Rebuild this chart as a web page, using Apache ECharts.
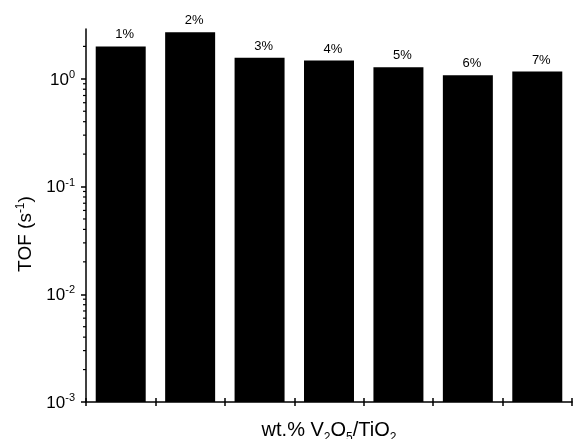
<!DOCTYPE html>
<html>
<head>
<meta charset="utf-8">
<script src="https://cdn.jsdelivr.net/npm/echarts@6/dist/echarts.min.js"></script>
<style>
html,body{margin:0;padding:0;background:#fff;}
#chart{width:573px;height:439px;}
</style>
</head>
<body>
<div id="chart"></div>
<script>
var categories = ['1%', '2%', '3%', '4%', '5%', '6%', '7%'];
var tofValues = [2.0, 2.70, 1.57, 1.48, 1.28, 1.08, 1.17];
var majorTicks = [0.001, 0.01, 0.1, 1];
var minorTicks = [0.002, 0.003, 0.004, 0.005, 0.006, 0.007, 0.008, 0.009,
                  0.02, 0.03, 0.04, 0.05, 0.06, 0.07, 0.08, 0.09,
                  0.2, 0.3, 0.4, 0.5, 0.6, 0.7, 0.8, 0.9, 2];
var yMin = 0.001, yMax = 2.9;

var FONT = 'Liberation Sans, Arial, sans-serif';
var chart = echarts.init(document.getElementById('chart'));

var barData = categories.map(function (c, i) { return [i, tofValues[i]]; });
var minorData = minorTicks.map(function (v) { return [0, v]; });

chart.setOption({
  animation: false,
  backgroundColor: '#fff',
  grid: { left: 86, right: 1, top: 29, bottom: 37, containLabel: false, outerBoundsMode: 'none' },
  xAxis: [{
    type: 'category',
    data: categories,
    position: 'bottom',
    axisLine: { show: true, lineStyle: { color: '#000', width: 1.5 } },
    axisTick: { show: true, inside: false, length: 4, lineStyle: { color: '#000', width: 1.5 } },
    axisLabel: { show: false },
    name: '{n|wt.% V}{s|2}{n|O}{s|5}{n|/TiO}{s|2}',
    nameLocation: 'middle',
    nameGap: 16,
    nameTextStyle: {
      color: '#000', fontFamily: FONT,
      rich: {
        n: { fontSize: 20, lineHeight: 22, color: '#000', fontFamily: FONT, verticalAlign: 'bottom' },
        s: { fontSize: 12, lineHeight: 12, color: '#000', fontFamily: FONT, verticalAlign: 'bottom', padding: [0, 0, -4, 0] }
      }
    }
  }, {
    type: 'category',
    data: categories,
    position: 'bottom',
    axisLine: { show: false },
    axisTick: { show: true, inside: true, length: 4, lineStyle: { color: '#000', width: 1.5 } },
    axisLabel: { show: false }
  }],
  yAxis: [{
    type: 'log',
    logBase: 10,
    min: yMin,
    max: yMax,
    position: 'left',
    splitLine: { show: false },
    axisLine: { show: true, lineStyle: { color: '#000', width: 1.5 } },
    axisTick: { show: true, inside: false, length: 5, customValues: majorTicks, lineStyle: { color: '#000', width: 1.5 } },
    axisLabel: {
      show: true,
      customValues: majorTicks,
      margin: 11,
      formatter: function (v) {
        var e = Math.round(Math.log(v) / Math.LN10);
        return '{b|10}{s|' + e + '}';
      },
      rich: {
        b: { fontSize: 17, lineHeight: 19, color: '#000', fontFamily: FONT, verticalAlign: 'bottom' },
        s: { fontSize: 11, lineHeight: 11, color: '#000', fontFamily: FONT, verticalAlign: 'top' }
      }
    },
    name: '{n|TOF (s}{s|-1}{n|)}',
    nameLocation: 'middle',
    nameGap: 50,
    nameRotate: 90,
    nameTextStyle: {
      color: '#000', fontFamily: FONT,
      padding: [0, 37, 0, 0],
      rich: {
        n: { fontSize: 19, lineHeight: 21, color: '#000', fontFamily: FONT, verticalAlign: 'bottom' },
        s: { fontSize: 12, lineHeight: 12, color: '#000', fontFamily: FONT, verticalAlign: 'top' }
      }
    }
  }],
  series: [{
    type: 'custom',
    xAxisIndex: 0,
    yAxisIndex: 0,
    data: barData,
    encode: { x: 0, y: 1 },
    clip: false,
    renderItem: function (params, api) {
      var i = api.value(0);
      var v = api.value(1);
      var top = api.coord([i, v]);
      var base = api.coord([i, yMin]);
      var w = api.size([1, 0])[0] * 0.72;
      return {
        type: 'rect',
        shape: { x: top[0] - w / 2, y: top[1], width: w, height: base[1] - top[1] },
        style: { fill: '#000' },
        textContent: {
          style: { text: categories[i], fill: '#000', fontSize: 13, fontFamily: FONT }
        },
        textConfig: { position: 'top', distance: 5, offset: [4, 0] }
      };
    }
  }, {
    type: 'custom',
    xAxisIndex: 0,
    yAxisIndex: 0,
    data: minorData,
    encode: { x: 0, y: 1 },
    clip: false,
    silent: true,
    renderItem: function (params, api) {
      var p = api.coord([api.value(0), api.value(1)]);
      var x0 = p[0] - api.size([1, 0])[0] / 2;
      return {
        type: 'line',
        shape: { x1: x0 - 3, y1: p[1], x2: x0, y2: p[1] },
        style: { stroke: '#000', lineWidth: 1.2 }
      };
    }
  }]
});
</script>
</body>
</html>
